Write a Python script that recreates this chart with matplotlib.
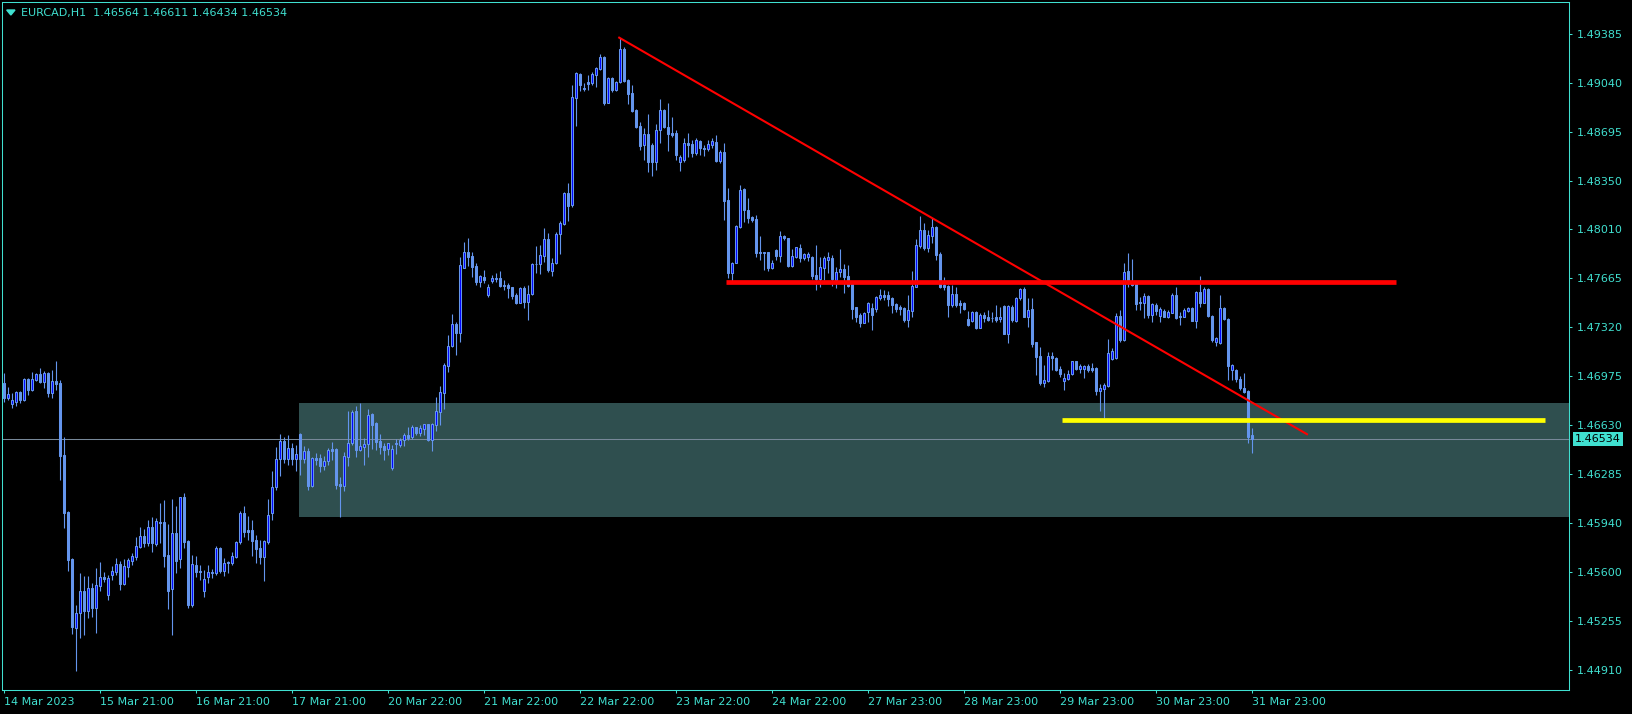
import numpy as np
import matplotlib
matplotlib.use('Agg')
import matplotlib.pyplot as plt
from matplotlib.patches import Rectangle, Polygon
from matplotlib.transforms import blended_transform_factory

# EURCAD H1 candles
opens = [
    1.46925, 1.46824, 1.46777, 1.46796, 1.46866, 1.46807, 1.46953, 1.46878, 1.46948, 1.46991,
    1.46937, 1.47000, 1.46859, 1.46941, 1.46930, 1.46420, 1.46017, 1.45688, 1.45200, 1.45305,
    1.45463, 1.45324, 1.45481, 1.45341, 1.45498, 1.45559, 1.45435, 1.45575, 1.45599, 1.45653,
    1.45512, 1.45634, 1.45676, 1.45704, 1.45775, 1.45850, 1.45803, 1.45911, 1.45794, 1.45951,
    1.45951, 1.45716, 1.45474, 1.45869, 1.45686, 1.46122, 1.45815, 1.45364, 1.45646, 1.45606,
    1.45465, 1.45559, 1.45587, 1.45587, 1.45763, 1.45606, 1.45658, 1.45662, 1.45704, 1.45805,
    1.46012, 1.45892, 1.45892, 1.45822, 1.45763, 1.45700, 1.45810, 1.46014, 1.46193, 1.46390,
    1.46521, 1.46390, 1.46467, 1.46390, 1.46568, 1.46390, 1.46449, 1.46205, 1.46397, 1.46397,
    1.46345, 1.46378, 1.46460, 1.46463, 1.46216, 1.46205, 1.46409, 1.46507, 1.46730, 1.46456,
    1.46474, 1.46498, 1.46709, 1.46648, 1.46521, 1.46484, 1.46460, 1.46327, 1.46498, 1.46491,
    1.46526, 1.46559, 1.46545, 1.46615, 1.46578, 1.46606, 1.46636, 1.46526, 1.46632, 1.46726,
    1.46859, 1.47050, 1.47190, 1.47343, 1.47282, 1.47740, 1.47847, 1.47822, 1.47751, 1.47641,
    1.47672, 1.47547, 1.47648, 1.47660, 1.47664, 1.47618, 1.47618, 1.47601, 1.47547, 1.47493,
    1.47596, 1.47500, 1.47552, 1.47763, 1.47763, 1.47824, 1.47941, 1.47718, 1.47770, 1.47974,
    1.48047, 1.48263, 1.48181, 1.48936, 1.49103, 1.49007, 1.49049, 1.49037, 1.49096, 1.49136,
    1.49223, 1.48901, 1.49077, 1.48990, 1.49044, 1.49279, 1.49061, 1.48967, 1.48850, 1.48737,
    1.48603, 1.48680, 1.48603, 1.48486, 1.48709, 1.48850, 1.48732, 1.48685, 1.48685, 1.48486,
    1.48497, 1.48615, 1.48608, 1.48544, 1.48634, 1.48584, 1.48573, 1.48603, 1.48627, 1.48490,
    1.48556, 1.48216, 1.47704, 1.47775, 1.48028, 1.48293, 1.48145, 1.48094, 1.48082, 1.47847,
    1.47840, 1.47847, 1.47735, 1.47864, 1.47824, 1.47962, 1.47946, 1.47751, 1.47817, 1.47875,
    1.47810, 1.47817, 1.47817, 1.47688, 1.47657, 1.47739, 1.47793, 1.47807, 1.47652, 1.47711,
    1.47730, 1.47681, 1.47622, 1.47460, 1.47406, 1.47352, 1.47427, 1.47453, 1.47448, 1.47523,
    1.47547, 1.47547, 1.47528, 1.47483, 1.47460, 1.47455, 1.47371, 1.47436, 1.47605, 1.47894,
    1.48004, 1.47875, 1.47965, 1.48028, 1.47835, 1.47615, 1.47610, 1.47476, 1.47554, 1.47493,
    1.47493, 1.47378, 1.47366, 1.47429, 1.47317, 1.47406, 1.47394, 1.47387, 1.47394, 1.47375,
    1.47469, 1.47272, 1.47465, 1.47366, 1.47523, 1.47589, 1.47394, 1.47448, 1.47213, 1.47118,
    1.46930, 1.46944, 1.47118, 1.47106, 1.47024, 1.46944, 1.46958, 1.46991, 1.47083, 1.47029,
    1.47029, 1.47047, 1.47036, 1.47036, 1.46874, 1.46886, 1.46909, 1.47097, 1.47101, 1.47400,
    1.47231, 1.47716, 1.47630, 1.47630, 1.47500, 1.47493, 1.47540, 1.47407, 1.47477, 1.47402,
    1.47437, 1.47395, 1.47423, 1.47547, 1.47400, 1.47395, 1.47435, 1.47458, 1.47367, 1.47571,
    1.47493, 1.47587, 1.47400, 1.47214, 1.47207, 1.47456, 1.47376, 1.47019, 1.47019, 1.46954,
    1.46890, 1.46869, 1.46564,
]
highs = [
    1.46995, 1.46901, 1.46859, 1.46871, 1.46873, 1.46960, 1.46960, 1.47007, 1.47000, 1.47030,
    1.47012, 1.47007, 1.47019, 1.47082, 1.46948, 1.46545, 1.46026, 1.45693, 1.45364, 1.45592,
    1.45568, 1.45568, 1.45521, 1.45622, 1.45669, 1.45599, 1.45575, 1.45639, 1.45693, 1.45676,
    1.45686, 1.45693, 1.45728, 1.45845, 1.45911, 1.45897, 1.45963, 1.45986, 1.45979, 1.46080,
    1.46103, 1.45934, 1.46113, 1.46061, 1.46127, 1.46150, 1.45822, 1.45716, 1.45709, 1.45643,
    1.45611, 1.45646, 1.45615, 1.45780, 1.45775, 1.45693, 1.45676, 1.45740, 1.45817, 1.46026,
    1.46061, 1.45991, 1.45963, 1.45857, 1.45822, 1.45822, 1.46108, 1.46310, 1.46479, 1.46568,
    1.46545, 1.46561, 1.46507, 1.46491, 1.46573, 1.46484, 1.46467, 1.46409, 1.46432, 1.46428,
    1.46413, 1.46467, 1.46510, 1.46467, 1.46268, 1.46444, 1.46730, 1.46737, 1.46766, 1.46789,
    1.46538, 1.46742, 1.46714, 1.46655, 1.46568, 1.46503, 1.46507, 1.46491, 1.46531, 1.46538,
    1.46578, 1.46615, 1.46632, 1.46620, 1.46632, 1.46639, 1.46639, 1.46644, 1.46827, 1.46906,
    1.47066, 1.47265, 1.47413, 1.47359, 1.47817, 1.47923, 1.47946, 1.47852, 1.47770, 1.47688,
    1.47723, 1.47625, 1.47688, 1.47700, 1.47718, 1.47653, 1.47629, 1.47606, 1.47559, 1.47601,
    1.47610, 1.47618, 1.47770, 1.47894, 1.47899, 1.48021, 1.47981, 1.47805, 1.47993, 1.48068,
    1.48274, 1.48333, 1.49025, 1.49119, 1.49108, 1.49037, 1.49096, 1.49119, 1.49155, 1.49241,
    1.49230, 1.49084, 1.49084, 1.49054, 1.49359, 1.49295, 1.49065, 1.49025, 1.48854, 1.48767,
    1.48720, 1.48819, 1.48615, 1.48749, 1.48927, 1.48854, 1.48896, 1.48803, 1.48709, 1.48533,
    1.48650, 1.48685, 1.48638, 1.48650, 1.48638, 1.48603, 1.48638, 1.48650, 1.48673, 1.48568,
    1.48615, 1.48298, 1.47777, 1.48040, 1.48321, 1.48303, 1.48232, 1.48106, 1.48110, 1.47962,
    1.47852, 1.47852, 1.47793, 1.47871, 1.47998, 1.47969, 1.47950, 1.47868, 1.47887, 1.47906,
    1.47845, 1.47852, 1.47821, 1.47899, 1.47817, 1.47821, 1.47852, 1.47828, 1.47746, 1.47868,
    1.47765, 1.47758, 1.47629, 1.47465, 1.47418, 1.47429, 1.47500, 1.47488, 1.47540, 1.47587,
    1.47582, 1.47575, 1.47535, 1.47493, 1.47476, 1.47460, 1.47547, 1.47718, 1.47939, 1.48103,
    1.48051, 1.48004, 1.48087, 1.48033, 1.47852, 1.47671, 1.47617, 1.47617, 1.47605, 1.47512,
    1.47500, 1.47436, 1.47436, 1.47436, 1.47418, 1.47429, 1.47441, 1.47429, 1.47476, 1.47465,
    1.47476, 1.47476, 1.47476, 1.47530, 1.47594, 1.47605, 1.47523, 1.47523, 1.47218, 1.47184,
    1.47055, 1.47148, 1.47148, 1.47113, 1.47047, 1.47000, 1.47019, 1.47085, 1.47085, 1.47059,
    1.47055, 1.47059, 1.47066, 1.47038, 1.46918, 1.46925, 1.47235, 1.47172, 1.47423, 1.47442,
    1.47770, 1.47845, 1.47801, 1.47630, 1.47536, 1.47559, 1.47547, 1.47493, 1.47489, 1.47461,
    1.47446, 1.47442, 1.47564, 1.47606, 1.47430, 1.47454, 1.47465, 1.47465, 1.47578, 1.47681,
    1.47606, 1.47594, 1.47407, 1.47254, 1.47547, 1.47461, 1.47383, 1.47062, 1.47024, 1.46977,
    1.46996, 1.46878, 1.46611,
]
lows = [
    1.46796, 1.46807, 1.46754, 1.46768, 1.46789, 1.46803, 1.46843, 1.46873, 1.46944, 1.46930,
    1.46890, 1.46831, 1.46819, 1.46878, 1.46244, 1.45904, 1.45606, 1.45160, 1.44900, 1.45134,
    1.45153, 1.45270, 1.45282, 1.45169, 1.45465, 1.45528, 1.45399, 1.45540, 1.45575, 1.45470,
    1.45505, 1.45564, 1.45646, 1.45681, 1.45763, 1.45775, 1.45780, 1.45740, 1.45780, 1.45798,
    1.45634, 1.45334, 1.45151, 1.45587, 1.45622, 1.45763, 1.45341, 1.45352, 1.45564, 1.45540,
    1.45423, 1.45517, 1.45552, 1.45575, 1.45592, 1.45568, 1.45587, 1.45646, 1.45693, 1.45794,
    1.45845, 1.45822, 1.45709, 1.45662, 1.45653, 1.45535, 1.45794, 1.45963, 1.46174, 1.46273,
    1.46362, 1.46350, 1.46350, 1.46310, 1.46280, 1.46362, 1.46174, 1.46198, 1.46350, 1.46303,
    1.46315, 1.46350, 1.46385, 1.46179, 1.45986, 1.46169, 1.46343, 1.46491, 1.46409, 1.46451,
    1.46350, 1.46404, 1.46460, 1.46456, 1.46428, 1.46385, 1.46420, 1.46315, 1.46428, 1.46479,
    1.46484, 1.46526, 1.46531, 1.46561, 1.46554, 1.46561, 1.46521, 1.46451, 1.46592, 1.46632,
    1.46742, 1.47007, 1.47183, 1.47125, 1.47218, 1.47735, 1.47751, 1.47676, 1.47618, 1.47601,
    1.47629, 1.47531, 1.47629, 1.47641, 1.47601, 1.47582, 1.47524, 1.47517, 1.47484, 1.47488,
    1.47453, 1.47371, 1.47547, 1.47700, 1.47692, 1.47777, 1.47711, 1.47683, 1.47763, 1.47833,
    1.48040, 1.48068, 1.48169, 1.48739, 1.48983, 1.48983, 1.48990, 1.49025, 1.49014, 1.49131,
    1.48885, 1.48896, 1.48979, 1.48983, 1.49037, 1.49049, 1.48892, 1.48838, 1.48720, 1.48568,
    1.48497, 1.48415, 1.48387, 1.48427, 1.48615, 1.48720, 1.48561, 1.48662, 1.48497, 1.48420,
    1.48486, 1.48521, 1.48521, 1.48533, 1.48533, 1.48528, 1.48561, 1.48580, 1.48486, 1.48474,
    1.48075, 1.47664, 1.47646, 1.47770, 1.48016, 1.48063, 1.48051, 1.48063, 1.47817, 1.47793,
    1.47723, 1.47716, 1.47730, 1.47793, 1.47782, 1.47934, 1.47746, 1.47746, 1.47805, 1.47781,
    1.47793, 1.47788, 1.47657, 1.47582, 1.47605, 1.47652, 1.47699, 1.47610, 1.47594, 1.47671,
    1.47563, 1.47605, 1.47378, 1.47359, 1.47324, 1.47347, 1.47359, 1.47300, 1.47429, 1.47512,
    1.47512, 1.47469, 1.47418, 1.47425, 1.47406, 1.47359, 1.47324, 1.47389, 1.47601, 1.47875,
    1.47864, 1.47852, 1.47915, 1.47793, 1.47594, 1.47582, 1.47394, 1.47465, 1.47465, 1.47422,
    1.47441, 1.47328, 1.47359, 1.47305, 1.47312, 1.47359, 1.47364, 1.47359, 1.47359, 1.47359,
    1.47270, 1.47206, 1.47359, 1.47359, 1.47512, 1.47389, 1.47319, 1.47183, 1.46983, 1.46914,
    1.46902, 1.46937, 1.47019, 1.47015, 1.46972, 1.46878, 1.46949, 1.46984, 1.47019, 1.46996,
    1.46961, 1.47008, 1.47008, 1.46843, 1.46733, 1.46679, 1.46902, 1.47090, 1.47099, 1.47219,
    1.47226, 1.47606, 1.47611, 1.47442, 1.47442, 1.47383, 1.47383, 1.47360, 1.47407, 1.47360,
    1.47390, 1.47383, 1.47418, 1.47376, 1.47336, 1.47390, 1.47430, 1.47364, 1.47313, 1.47465,
    1.47489, 1.47390, 1.47219, 1.47188, 1.47202, 1.47371, 1.46949, 1.46949, 1.46937, 1.46878,
    1.46855, 1.46508, 1.46434,
]
closes = [
    1.46819, 1.46847, 1.46807, 1.46861, 1.46807, 1.46953, 1.46878, 1.46953, 1.46991, 1.46932,
    1.46995, 1.46859, 1.46941, 1.46920, 1.46416, 1.46010, 1.45681, 1.45207, 1.45305, 1.45463,
    1.45324, 1.45481, 1.45341, 1.45505, 1.45559, 1.45545, 1.45552, 1.45603, 1.45653, 1.45512,
    1.45639, 1.45681, 1.45709, 1.45780, 1.45850, 1.45803, 1.45911, 1.45798, 1.45956, 1.45939,
    1.45709, 1.45465, 1.45869, 1.45676, 1.46122, 1.45810, 1.45364, 1.45653, 1.45599, 1.45594,
    1.45545, 1.45594, 1.45594, 1.45763, 1.45606, 1.45662, 1.45667, 1.45709, 1.45808, 1.46012,
    1.45880, 1.45880, 1.45817, 1.45758, 1.45700, 1.45815, 1.45998, 1.46193, 1.46390, 1.46521,
    1.46390, 1.46467, 1.46390, 1.46428, 1.46390, 1.46449, 1.46205, 1.46397, 1.46385, 1.46345,
    1.46378, 1.46456, 1.46451, 1.46209, 1.46205, 1.46413, 1.46507, 1.46723, 1.46456, 1.46484,
    1.46498, 1.46702, 1.46632, 1.46514, 1.46479, 1.46456, 1.46503, 1.46460, 1.46507, 1.46526,
    1.46559, 1.46543, 1.46615, 1.46578, 1.46608, 1.46636, 1.46526, 1.46639, 1.46733, 1.46862,
    1.47054, 1.47190, 1.47343, 1.47282, 1.47758, 1.47847, 1.47817, 1.47747, 1.47641, 1.47681,
    1.47653, 1.47601, 1.47667, 1.47664, 1.47610, 1.47610, 1.47599, 1.47540, 1.47493, 1.47596,
    1.47500, 1.47552, 1.47763, 1.47768, 1.47829, 1.47941, 1.47723, 1.47775, 1.47976, 1.48051,
    1.48263, 1.48174, 1.48943, 1.49108, 1.49025, 1.48995, 1.49030, 1.49101, 1.49143, 1.49220,
    1.48901, 1.49077, 1.48990, 1.49044, 1.49279, 1.49054, 1.48962, 1.48845, 1.48732, 1.48598,
    1.48680, 1.48486, 1.48486, 1.48709, 1.48850, 1.48728, 1.48680, 1.48673, 1.48533, 1.48521,
    1.48615, 1.48603, 1.48544, 1.48638, 1.48580, 1.48573, 1.48608, 1.48634, 1.48490, 1.48556,
    1.48211, 1.47704, 1.47770, 1.48033, 1.48286, 1.48145, 1.48091, 1.48075, 1.47845, 1.47840,
    1.47847, 1.47735, 1.47770, 1.47824, 1.47965, 1.47950, 1.47751, 1.47821, 1.47882, 1.47810,
    1.47835, 1.47835, 1.47681, 1.47657, 1.47742, 1.47805, 1.47812, 1.47657, 1.47711, 1.47730,
    1.47671, 1.47610, 1.47448, 1.47389, 1.47352, 1.47422, 1.47493, 1.47406, 1.47535, 1.47547,
    1.47530, 1.47516, 1.47476, 1.47448, 1.47448, 1.47371, 1.47441, 1.47610, 1.47899, 1.48004,
    1.47875, 1.47969, 1.48028, 1.47828, 1.47605, 1.47601, 1.47476, 1.47554, 1.47476, 1.47476,
    1.47448, 1.47336, 1.47425, 1.47317, 1.47406, 1.47387, 1.47371, 1.47382, 1.47371, 1.47394,
    1.47272, 1.47469, 1.47371, 1.47523, 1.47589, 1.47394, 1.47441, 1.47202, 1.47113, 1.46930,
    1.46949, 1.47118, 1.47106, 1.47019, 1.46991, 1.46965, 1.46991, 1.47083, 1.47029, 1.47045,
    1.47050, 1.47019, 1.47019, 1.46874, 1.46895, 1.46914, 1.47141, 1.47155, 1.47400, 1.47231,
    1.47707, 1.47630, 1.47618, 1.47484, 1.47489, 1.47540, 1.47407, 1.47484, 1.47435, 1.47446,
    1.47395, 1.47430, 1.47547, 1.47383, 1.47390, 1.47442, 1.47454, 1.47367, 1.47571, 1.47493,
    1.47587, 1.47400, 1.47231, 1.47242, 1.47456, 1.47376, 1.47050, 1.47055, 1.46954, 1.46890,
    1.46867, 1.46550, 1.46534,
]

date_labels = ['14 Mar 2023', '15 Mar 21:00', '16 Mar 21:00', '17 Mar 21:00', '20 Mar 22:00',
               '21 Mar 22:00', '22 Mar 22:00', '23 Mar 22:00', '24 Mar 22:00', '27 Mar 23:00',
               '28 Mar 23:00', '29 Mar 23:00', '30 Mar 23:00', '31 Mar 23:00']
price_ticks = [1.49385, 1.49040, 1.48695, 1.48350, 1.48010, 1.47665, 1.47320,
               1.46975, 1.46630, 1.46285, 1.45940, 1.45600, 1.45255, 1.44910]

# chart objects: (bar index, price)
trend_line = [(153.8, 1.49359), (325.75, 1.46567)]
resistance = [(180.4, 1.47642), (347.9, 1.47642)]
support = [(264.4, 1.46665), (385.25, 1.46665)]
zone_left = 73.75
zone_top, zone_bottom = 1.46787, 1.45986
title = 'EURCAD,H1  1.46564 1.46611 1.46434 1.46534'

W, H = 1633, 714
fg = '#40E0D0'
cand = '#6495ED'
bull_fill = '#0000FF'
fs = 8

fig = plt.figure(figsize=(W / 100, H / 100), dpi=100, facecolor='black')
ax = fig.add_axes([2 / W, (H - 690) / H, (1569 - 2) / W, (690 - 2) / H])
ax.set_facecolor('black')

o = np.array(opens); h = np.array(highs); l = np.array(lows); c = np.array(closes)
x = np.arange(len(c))
up = c > o

ax.add_patch(Rectangle((zone_left, zone_bottom), 500, zone_top - zone_bottom,
                       facecolor='#2F4F4F', edgecolor='none', zorder=1))
ax.axhline(c[-1], color='#778899', lw=0.75, zorder=2)

ax.vlines(x, l, h, color=cand, lw=0.8, zorder=3)
body_lo = np.minimum(o, c)
body_h = np.maximum(np.abs(c - o), 0.00002)
ax.bar(x, body_h, bottom=body_lo, width=0.5,
       color=[bull_fill if u else cand for u in up],
       edgecolor=cand, linewidth=0.75, zorder=4)

ax.plot(*zip(*trend_line), color='red', lw=1.5, zorder=5)
ax.plot(*zip(*resistance), color='red', lw=3.4, solid_capstyle='butt', zorder=5)
ax.plot(*zip(*support), color='yellow', lw=3.4, solid_capstyle='butt', zorder=5)

ax.set_xlim(-0.5, 391.25)
ax.set_ylim(1.44766, 1.49610)

for s in ax.spines.values():
    s.set_color(fg)
    s.set_linewidth(0.75)

ax.yaxis.tick_right()
ax.set_yticks(price_ticks)
ax.set_yticklabels([f'{p:.5f}' for p in price_ticks])
ax.set_xticks(range(0, 24 * len(date_labels), 24))
ax.set_xticklabels(date_labels, ha='left')
ax.tick_params(axis='y', colors=fg, length=2.3, width=0.75, pad=3.4, labelsize=fs)
ax.tick_params(axis='x', colors=fg, length=2.5, width=0.75, pad=2.2, labelsize=fs)

fig.text(21 / W, 1 - 12.7 / H, title, color=fg, fontsize=fs, va='center', ha='left')
fig.add_artist(Polygon([[6.7 / W, 1 - 10 / H], [15 / W, 1 - 10 / H], [10.85 / W, 1 - 15 / H]],
                       closed=True, transform=fig.transFigure, color=fg))

tr = blended_transform_factory(ax.transAxes, ax.transData)
ax.text(1.004, c[-1], f'{c[-1]:.5f}', transform=tr, va='center', ha='left', color='black',
        fontsize=fs, clip_on=False,
        bbox=dict(boxstyle='square,pad=0.2', fc=fg, ec='none'))

fig.savefig('out.png', dpi=100, facecolor='black')
